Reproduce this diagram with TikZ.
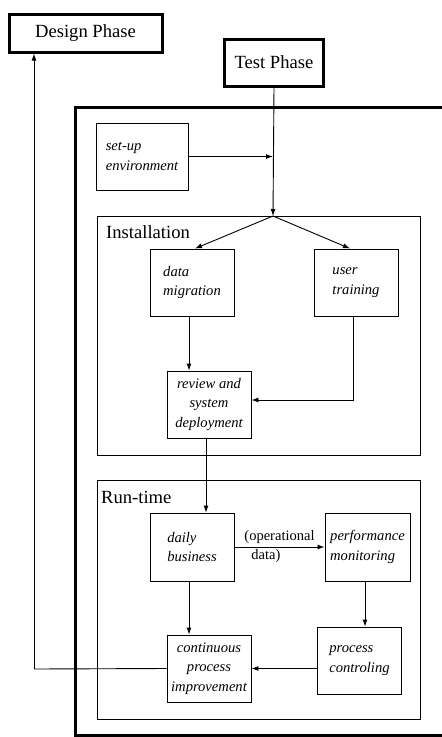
\documentclass[tikz,border=0pt]{standalone}
\usepackage{fontspec}
\setmainfont{Liberation Serif}
\usetikzlibrary{arrows.meta}

\begin{document}
\begin{tikzpicture}[
    x=1pt, y=-1pt,
    phase/.style={draw=black, line width=3pt, fill=white, inner sep=0pt,
        font=\fontsize{18.6}{22}\selectfont},
    task/.style={draw=black, line width=0.9pt, inner sep=0pt,
        minimum width=84pt, minimum height=67pt, align=left,
        font=\fontsize{14.6}{19.3}\selectfont\itshape},
    area/.style={draw=black, line width=1pt},
    arealabel/.style={anchor=base west, inner sep=0pt,
        font=\fontsize{18.6}{22}\selectfont},
    arrow/.style={line width=0.9pt, -{Latex[length=7pt,width=5pt]}}
]
    \useasboundingbox (0,0) rectangle (442,737);

    % phases
    \node[phase, minimum width=153pt, minimum height=38pt] (design) at (85.5,33) {Design Phase};
    \node[phase, minimum width=99pt, minimum height=47pt] (test) at (274,62.5) {Test Phase};

    % outer frame, open to the right
    \draw[line width=3pt] (442,107) -- (75,107) -- (75,735) -- (442,735);

    % installation
    \draw[area] (97,216) rectangle (420,455);
    \node[arealabel] (installation) at (106,238) {Installation};
    \coordinate (split) at (273,216);

    % run-time
    \draw[area] (97,480) rectangle (420,719);
    \node[arealabel] (runtime) at (101,503) {Run-time};

    \node[task, minimum width=92pt] (setup) at (142,156.5) {set-up\\environment};
    \node[task] (datamig) at (192,282.5) {data\\migration};
    \node[task] (usertrain) at (356,282.5) {user\\training};
    \node[task, align=center] (review) at (209,404.5) {review and\\system\\deployment};
    \node[task, minimum height=68pt] (daily) at (192,547) {daily\\business};
    \node[task, minimum width=85pt, minimum height=68pt] (perf) at (367.5,547) {performance\\monitoring};
    \node[task] (procctrl) at (359.5,660.5) {process\\controling};
    \node[task, align=center] (contimp) at (209,668.5) {continuous\\process\\improvement};
    \coordinate (back) at (34,669);

    \draw[arrow] (test.south) -- (split);
    \draw[arrow] (setup.east) -- (setup.east -| split);
    \draw[arrow] (split) -- ([xshift=3pt]datamig.north);
    \draw[arrow] (split) -- ([xshift=-6pt]usertrain.north);
    \draw[arrow] ([xshift=-3pt]datamig.south) -- ([xshift=-3pt]datamig.south |- review.north);
    \draw[arrow] ([xshift=-3pt]usertrain.south) |- ([yshift=4.5pt]review.east);
    \draw[arrow] ([xshift=-3pt]review.south) -- ([xshift=-3pt]review.south |- daily.north);
    \draw[arrow] (daily.east) -- node[align=left, inner sep=0pt,
        font=\fontsize{14.5}{19}\selectfont] (opdata) {(operational\\\hspace*{7pt}data)} (perf.west);
    \draw[arrow] ([xshift=-3pt]daily.south) -- ([xshift=-3pt]daily.south |- contimp.north);
    \draw[arrow] ([xshift=-2.5pt]perf.south) -- ([xshift=-2.5pt]perf.south |- procctrl.north);
    \draw[arrow] (procctrl.west |- contimp.east) -- (contimp.east);
    \draw[line width=0.9pt] (contimp.west) -- (back);
    \draw[arrow] (back) -- (back |- design.south);
\end{tikzpicture}
\end{document}
